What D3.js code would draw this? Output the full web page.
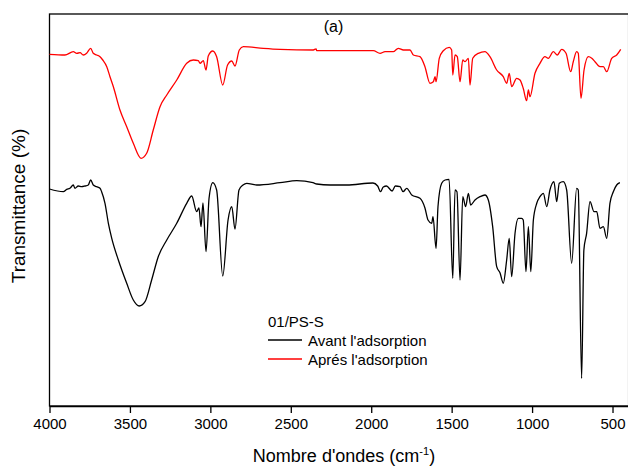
<!DOCTYPE html>
<html>
<head>
<meta charset="utf-8">
<script src="https://cdn.jsdelivr.net/npm/d3@7/dist/d3.min.js"></script>
<style>
  html, body { margin: 0; padding: 0; background: #fff; }
  svg { display: block; font-family: "Liberation Sans", Arial, sans-serif; }
</style>
</head>
<body>
<svg id="chart" width="628" height="466"></svg>
<script>
// Wavenumber ticks (cm-1)
const xTicks = [4000, 3500, 3000, 2500, 2000, 1500, 1000, 500];

// Series: [wavenumber, transmittance (arbitrary units)]
const avantData = [
  [4000, 217], [3914, 214.3], [3893, 216.7], [3873, 217.7], [3852, 221], [3842, 217.7],
  [3821, 220], [3800, 219.3], [3779, 220], [3759, 221], [3744, 226], [3728, 221],
  [3707, 219.3], [3686, 217.7], [3676, 214.3], [3655, 202.7], [3634, 182.7], [3613, 167.7],
  [3572, 146], [3520, 122.7], [3479, 106], [3442, 100], [3406, 104.3], [3365, 126],
  [3324, 149.3], [3271, 166], [3209, 182.7], [3147, 202.7], [3116, 210], [3085, 194.3],
  [3071, 198], [3058, 179.3], [3046, 203], [3027, 154.3], [3008, 208], [2985, 223.3],
  [2961, 216], [2923, 130], [2890, 186], [2867, 199.3], [2847, 177], [2822, 216],
  [2797, 221], [2774, 222.7], [2712, 221], [2567, 223.3], [2463, 225.3], [2362, 223.3],
  [2339, 222], [2256, 221], [2152, 221], [1989, 223], [1960, 220], [1942, 214.3],
  [1925, 219], [1905, 220], [1870, 215], [1850, 220], [1821, 219.3], [1802, 214.3],
  [1779, 217.7], [1748, 211], [1697, 207.7], [1666, 198], [1647, 186], [1624, 182.7],
  [1616, 189.3], [1597, 157.7], [1585, 199.3], [1562, 222.7], [1541, 226], [1516, 226.7],
  [1493, 127.7], [1479, 216], [1467, 214.3], [1448, 126], [1431, 209.3], [1413, 199.3],
  [1396, 212.7], [1382, 201], [1355, 206], [1324, 209.3], [1293, 211], [1272, 206],
  [1245, 179.3], [1220, 139.3], [1199, 133], [1179, 122.7], [1158, 146], [1142, 167.7],
  [1127, 129.3], [1106, 172.7], [1086, 187.7], [1065, 187.7], [1055, 186], [1038, 134.3],
  [1023, 179.3], [1008, 134.3], [992, 186], [971, 202.7], [951, 209.3], [930, 212.7],
  [909, 199.3], [889, 216], [864, 224.3], [847, 204.3], [831, 222.7], [806, 224.3],
  [785, 216], [754, 142.7], [723, 217.7], [713, 216], [692, 27.7], [678, 156],
  [661, 172.7], [640, 204.3], [615, 194.3], [598, 194.3], [578, 177.7], [557, 179.3],
  [536, 167.7], [516, 202.7], [495, 214.3], [474, 221], [454, 223.3]
];

const apresData = [
  [4000, 351.7], [3904, 351], [3852, 354.3], [3831, 352.7], [3810, 353.3], [3790, 351],
  [3769, 352.7], [3744, 357.7], [3728, 352.7], [3707, 351], [3686, 349.3], [3669, 346],
  [3644, 339.3], [3624, 329.3], [3603, 319.3], [3562, 296], [3520, 279.3], [3479, 262.7],
  [3431, 247.7], [3396, 252.7], [3355, 276], [3313, 299.3], [3271, 311], [3209, 326],
  [3147, 342.7], [3106, 346], [3075, 345.3], [3064, 342.7], [3044, 345.3], [3027, 336],
  [3013, 350], [2985, 355], [2961, 349.3], [2923, 321], [2893, 341], [2867, 345],
  [2847, 340], [2820, 356], [2795, 359.3], [2671, 357.7], [2567, 356.7], [2360, 356],
  [2343, 357.2], [2339, 355.3], [2152, 355.3], [1987, 355.3], [1945, 352.7], [1914, 354.3],
  [1863, 354.3], [1832, 357.7], [1800, 356], [1759, 356], [1738, 351], [1697, 349.3],
  [1666, 339.3], [1635, 322.7], [1614, 324.3], [1603, 329.3], [1597, 324.3], [1577, 347.7],
  [1552, 355.3], [1515, 358.7], [1500, 356], [1493, 331], [1479, 351], [1465, 349.3],
  [1448, 324.3], [1431, 346], [1417, 344.3], [1396, 347.7], [1386, 321], [1369, 347.7],
  [1334, 352.7], [1293, 354.3], [1262, 349.3], [1220, 336], [1179, 329.3], [1158, 322.7],
  [1142, 332.7], [1127, 319.3], [1096, 327.7], [1075, 326], [1055, 317.7], [1034, 305.3],
  [1023, 316], [1013, 309.3], [982, 332.7], [951, 342.7], [920, 349.3], [899, 347.7],
  [868, 354.3], [843, 351], [816, 356.7], [789, 352.7], [760, 334.3], [744, 344.3],
  [723, 354.3], [713, 352.7], [696, 307.7], [677, 336], [650, 349.3], [629, 347.7],
  [609, 344.3], [578, 339.3], [557, 339.3], [536, 334.3], [505, 347.7], [474, 351],
  [449, 356.7]
];

const seriesNames = ["Avant l'adsorption", "Aprés l'adsorption"];
const seriesColors = ["#000000", "#ff0000"];
const legendTitle = "01/PS-S";

const svg = d3.select("#chart");
const plotLeft = 49.5, plotRight = 628.6, plotTop = 14, plotBottom = 406;

const x = d3.scaleLinear().domain([4000, 400]).range([plotLeft, plotRight]);
const y = d3.scaleLinear().domain([0, 392]).range([plotBottom, plotTop]);

// Frame
svg.append("rect")
  .attr("x", plotLeft).attr("y", plotTop)
  .attr("width", plotRight - plotLeft).attr("height", plotBottom - plotTop)
  .attr("fill", "none").attr("stroke", "#000").attr("stroke-width", 1.3);

// Bottom axis
const xAxis = d3.axisBottom(x).tickValues(xTicks).tickFormat(d3.format("d"))
  .tickSize(7).tickSizeOuter(0).tickPadding(5);
const gx = svg.append("g").attr("transform", `translate(0,${plotBottom})`).call(xAxis);
gx.select(".domain").attr("stroke", "#000").attr("stroke-width", 1.3);
gx.selectAll(".tick line").attr("stroke", "#000").attr("stroke-width", 1.3);
gx.selectAll(".tick text").attr("fill", "#000").style("font-size", "15px")
  .style("font-family", "'Liberation Sans', Arial, sans-serif");

// Lines
const line = d3.line().x(d => x(d[0])).y(d => y(d[1])).curve(d3.curveMonotoneX);
[avantData, apresData].forEach((data, i) => {
  svg.append("path").datum(data)
    .attr("d", line)
    .attr("fill", "none")
    .attr("stroke", seriesColors[i])
    .attr("stroke-width", 1.3)
    .attr("stroke-linejoin", "round");
});

// Titles
const xt = svg.append("text")
  .attr("x", 344).attr("y", 462)
  .attr("text-anchor", "middle")
  .style("font-size", "18px").attr("fill", "#000");
xt.append("tspan").text("Nombre d'ondes (cm");
xt.append("tspan").attr("dy", -7).style("font-size", "11px").text("-1");
xt.append("tspan").attr("dy", 7).text(")");

svg.append("text")
  .attr("transform", "translate(25,206) rotate(-90)")
  .attr("text-anchor", "middle")
  .style("font-size", "19px").attr("fill", "#000")
  .text("Transmittance (%)");

svg.append("text")
  .attr("x", 333.5).attr("y", 32)
  .attr("text-anchor", "middle")
  .style("font-size", "16px").attr("fill", "#000")
  .text("(a)");

// Legend
const lg = svg.append("g");
lg.append("text").attr("x", 268).attr("y", 327).style("font-size", "15px").attr("fill", "#000").text(legendTitle);
seriesNames.forEach((name, i) => {
  const yy = 340 + i * 19;
  lg.append("line").attr("x1", 268).attr("x2", 302).attr("y1", yy).attr("y2", yy)
    .attr("stroke", seriesColors[i]).attr("stroke-width", 1.3);
  lg.append("text").attr("x", 308).attr("y", yy + 6).style("font-size", "15px").attr("fill", "#000").text(name);
});
</script>
</body>
</html>
